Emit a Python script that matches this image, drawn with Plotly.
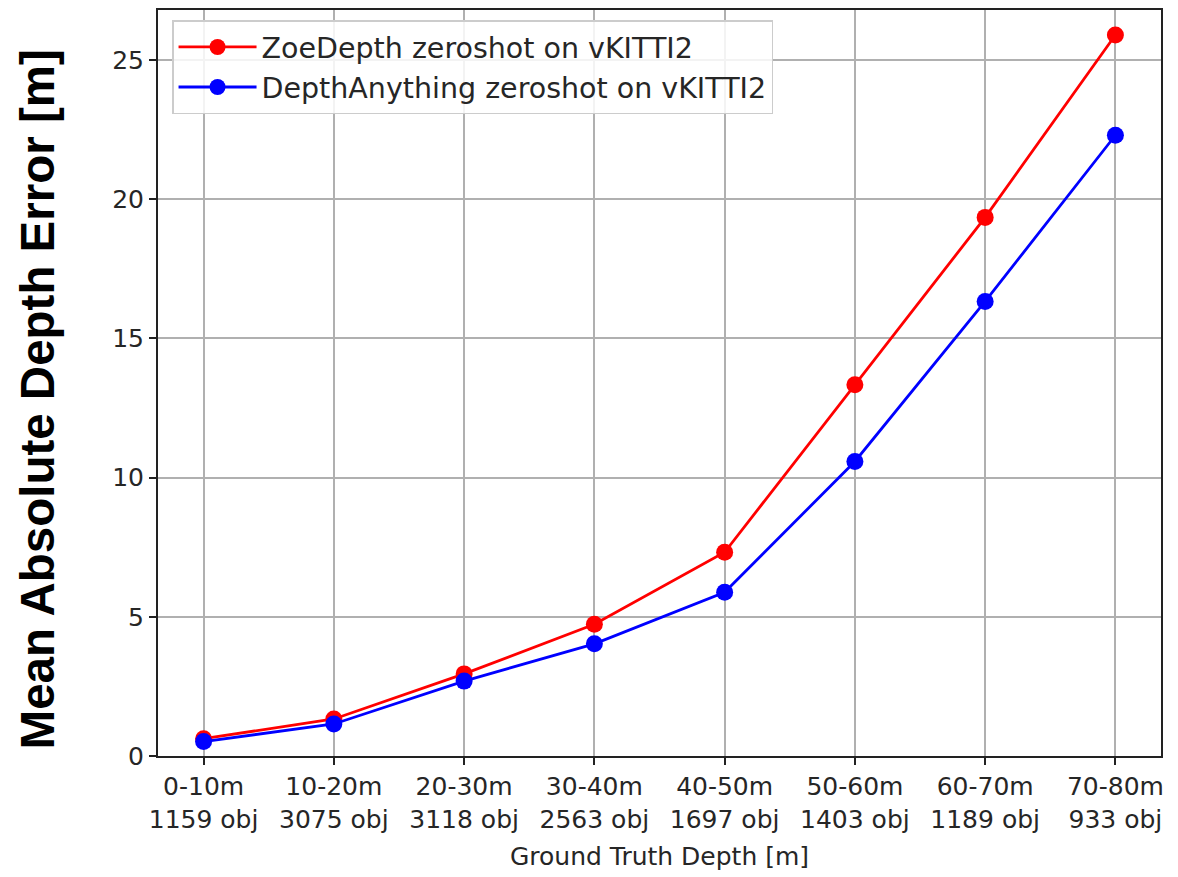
import plotly.graph_objects as go

ranges = ["0-10m", "10-20m", "20-30m", "30-40m", "40-50m", "50-60m", "60-70m", "70-80m"]
counts = ["1159 obj", "3075 obj", "3118 obj", "2563 obj", "1697 obj", "1403 obj", "1189 obj", "933 obj"]
zoe_mae = [0.62, 1.33, 2.95, 4.73, 7.32, 13.34, 19.35, 25.9]
da_mae = [0.52, 1.15, 2.69, 4.03, 5.88, 10.58, 16.33, 22.3]
series_names = ["ZoeDepth zeroshot on vKITTI2", "DepthAnything zeroshot on vKITTI2"]
y_ticks = [0, 5, 10, 15, 20, 25]

x_idx = list(range(len(ranges)))
tick_text = [f"{r}<br>{c}" for r, c in zip(ranges, counts)]

fig = go.Figure()
for i, (name, vals, col) in enumerate([(series_names[0], zoe_mae, "#ff0000"), (series_names[1], da_mae, "#0000ff")]):
    fig.add_trace(go.Scatter(
        x=x_idx, y=vals, name=name, mode="lines+markers", legendgroup=f"g{i}",
        line=dict(color=col, width=2.8),
        marker=dict(color=col, size=17),
    ))

tick_font = dict(family="DejaVu Sans", size=25, color="#262626")
W, H = 1170, 869
L, R, T, B = 150, 17, 0, 121
fig.update_layout(
    width=W, height=H,
    margin=dict(l=L, r=R, t=T, b=B),
    paper_bgcolor="white", plot_bgcolor="white",
    showlegend=True,
    legend=dict(
        x=0.014, y=0.986, xanchor="left", yanchor="top",
        bgcolor="rgba(255,255,255,0.85)", bordercolor="#cccccc", borderwidth=1.5,
        font=dict(family="DejaVu Sans", size=28.5, color="#262626"),
        itemwidth=78, tracegroupgap=0,
    ),
    xaxis=dict(
        range=[-0.35, 7.35], tickmode="array", tickvals=x_idx, ticktext=tick_text,
        tickfont=tick_font, ticks="outside", ticklen=7, tickwidth=1.5, tickcolor="#222",
        showgrid=True, gridcolor="#b0b0b0", gridwidth=1.5,
        showline=True, linecolor="#222", linewidth=2, mirror=True, zeroline=False,
        title=dict(text="Ground Truth Depth [m]", font=tick_font, standoff=15),
    ),
    yaxis=dict(
        range=[0, 26.8], tickmode="array", tickvals=y_ticks,
        tickfont=tick_font, ticks="outside", ticklen=7, tickwidth=1.5, tickcolor="#222",
        showgrid=True, gridcolor="#b0b0b0", gridwidth=1.5,
        showline=True, linecolor="#222", linewidth=2, mirror=True, zeroline=False,
    ),
)
fig.add_annotation(
    text="<b>Mean Absolute Depth Error [m]</b>", textangle=-90,
    xref="paper", yref="paper", x=-L / (W - L - R), y=0.478, xanchor="center", yanchor="middle",
    xshift=29, showarrow=False,
    font=dict(family="Liberation Sans, Arial", size=47.5, color="black"),
)
fig.write_html("out.html")
